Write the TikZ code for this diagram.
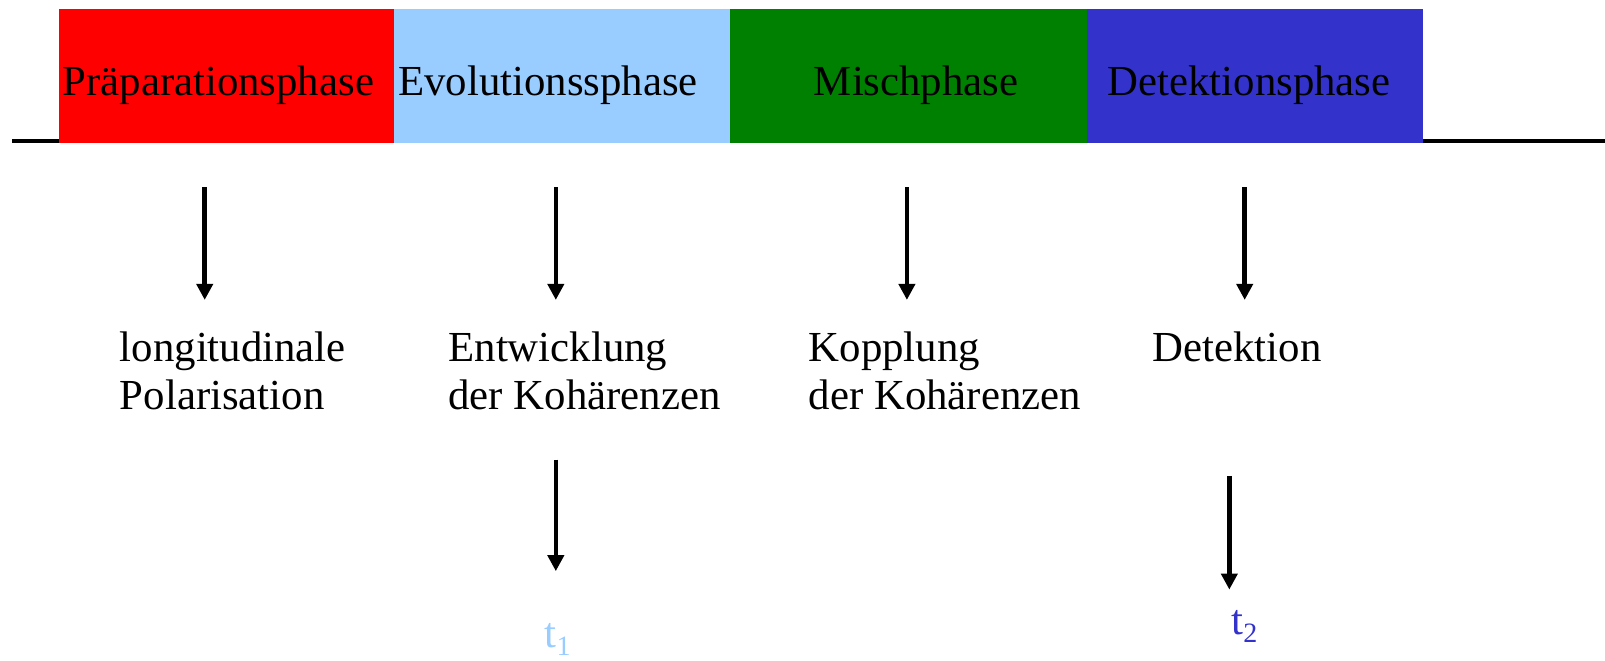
\documentclass[tikz,border=0pt]{standalone}
\usepackage{fontspec}
\setmainfont{Liberation Serif}
\usetikzlibrary{arrows.meta}
\definecolor{cred}{RGB}{255,0,0}
\definecolor{clblue}{RGB}{153,204,255}
\definecolor{cgreen}{RGB}{0,128,0}
\definecolor{cblue}{RGB}{51,51,204}
\newcommand{\bigfs}{\fontsize{42.8pt}{47.5pt}\selectfont}
\tikzset{
  phasebox/.style={draw=none, inner sep=0pt, anchor=north west},
  phaselabel/.style={inner sep=0pt, anchor=base west, font=\bigfs},
  desc/.style={inner sep=0pt, anchor=north west, align=left, font=\bigfs},
  arr/.style={line width=4.5pt, -{Triangle[width=16pt,length=16pt]}},
  tlabel/.style={inner sep=0pt, anchor=base west, font=\bigfs}
}
\begin{document}
\begin{tikzpicture}[x=1.0236pt,y=-1.0236pt]
\useasboundingbox (0,0) rectangle (1568,644.8);
% base line
\coordinate (lineL) at (12,138);
\coordinate (lineR) at (1568,138);
\draw[line width=4.1pt] (lineL) -- (lineR);
% phase boxes
\node[phasebox, fill=cred,   minimum width=335.7pt, minimum height=134pt] (b1) at (57,9) {};
\node[phasebox, fill=clblue, minimum width=335.7pt, minimum height=134pt] (b2) at (385,9) {};
\node[phasebox, fill=cgreen, minimum width=357.3pt, minimum height=134pt] (b3) at (713,9) {};
\node[phasebox, fill=cblue,  minimum width=335.7pt, minimum height=134pt] (b4) at (1062,9) {};
% phase labels
\node[phaselabel] (l1) at (61,93) {Präparationsphase};
\node[phaselabel] (l2) at (389,93) {Evolutionssphase};
\node[phaselabel] (l3) at (795,93) {Mischphase};
\node[phaselabel] (l4) at (1082,93) {Detektionsphase};
% arrows
\coordinate (a1s) at (200,183); \coordinate (a1e) at (200,293);
\coordinate (a2s) at (543,183); \coordinate (a2e) at (543,293);
\coordinate (a3s) at (886,183); \coordinate (a3e) at (886,293);
\coordinate (a4s) at (1216,183); \coordinate (a4e) at (1216,293);
\coordinate (a5s) at (543,449); \coordinate (a5e) at (543,558);
\coordinate (a6s) at (1201,465); \coordinate (a6e) at (1201,576);
\draw[arr] (a1s) -- (a1e);
\draw[arr] (a2s) -- (a2e);
\draw[arr] (a3s) -- (a3e);
\draw[arr] (a4s) -- (a4e);
\draw[arr] (a5s) -- (a5e);
\draw[arr] (a6s) -- (a6e);
% descriptions
\node[desc] (d1) at (117,324) {longitudinale\\Polarisation};
\node[desc] (d2) at (438,324) {Entwicklung\\der Kohärenzen};
\node[desc] (d3) at (790,324) {Kopplung\\der Kohärenzen};
\node[desc] (d4) at (1126,324) {Detektion};
% times
\node[tlabel, text=clblue] (t1) at (532,633) {t\raisebox{-8pt}{\fontsize{28pt}{30pt}\selectfont 1}};
\node[tlabel, text=cblue] (t2) at (1203,620) {t\raisebox{-8pt}{\fontsize{28pt}{30pt}\selectfont 2}};
\end{tikzpicture}
\end{document}
